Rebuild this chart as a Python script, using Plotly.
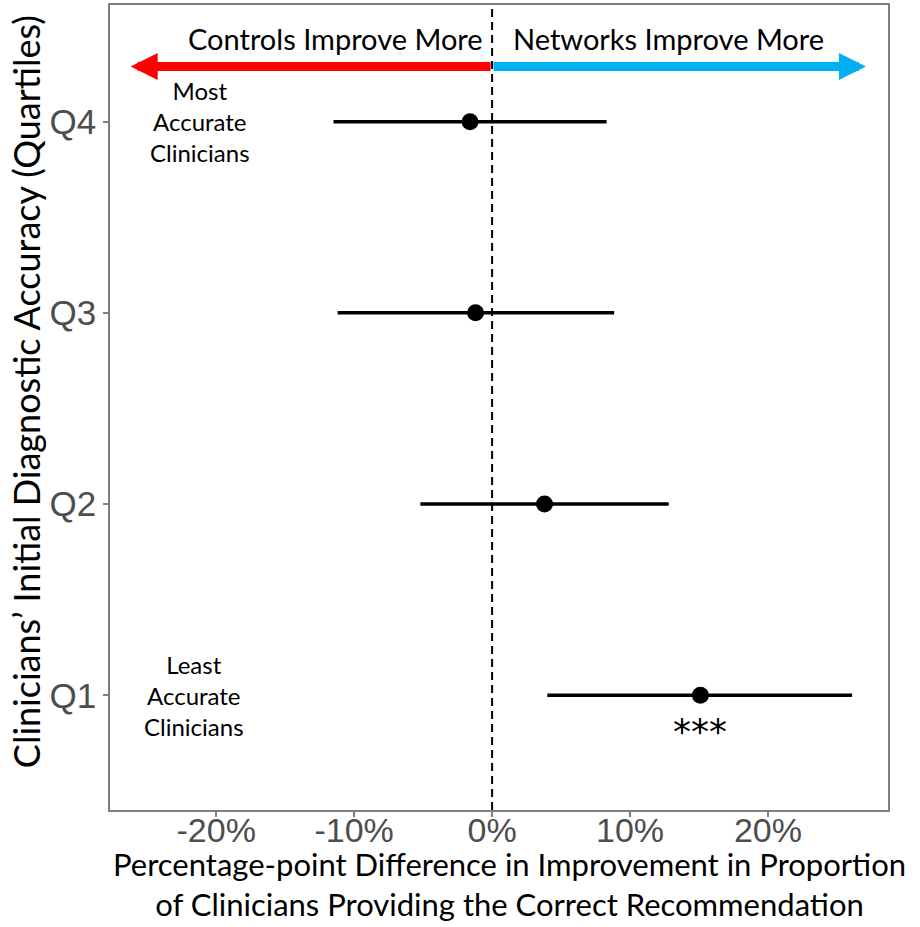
import plotly.graph_objects as go

quartiles = ["Q1", "Q2", "Q3", "Q4"]
y_pos = [1, 2, 3, 4]
estimate = [15.1, 3.8, -1.2, -1.6]
ci_low = [4.0, -5.2, -11.2, -11.5]
ci_high = [26.1, 12.8, 8.85, 8.3]
x_ticks = [-20, -10, 0, 10, 20]
x_tick_labels = ["-20%", "-10%", "0%", "10%", "20%"]

TXT_FONT = "Lato"
fig = go.Figure()

# CI lines
for yv, lo, hi in zip(y_pos, ci_low, ci_high):
    fig.add_trace(go.Scatter(x=[lo, hi], y=[yv, yv], mode="lines",
                             line=dict(color="black", width=3.5),
                             showlegend=False, hoverinfo="skip"))
fig.add_trace(go.Scatter(x=estimate, y=y_pos, mode="markers",
                         marker=dict(color="black", size=17),
                         showlegend=False))

# zero line
fig.add_shape(type="line", x0=0, x1=0, y0=0, y1=1, xref="x", yref="paper",
              line=dict(color="black", width=2, dash="8px,5px"), layer="below")

# direction arrows
arrow_y = 4.288
fig.add_annotation(x=-26.2, y=arrow_y, ax=0, ay=arrow_y, axref="x", ayref="y",
                   xref="x", yref="y", text="", showarrow=True, arrowhead=2,
                   arrowsize=0.6, arrowwidth=9, arrowcolor="#ff0000")
fig.add_annotation(x=27.1, y=arrow_y, ax=0, ay=arrow_y, axref="x", ayref="y",
                   xref="x", yref="y", text="", showarrow=True, arrowhead=2,
                   arrowsize=0.6, arrowwidth=9, arrowcolor="#00b0f0")
fig.add_annotation(x=-0.5, y=4.435, text="Controls Improve More", showarrow=False,
                   xanchor="right", font=dict(family=TXT_FONT, size=29, color="black"))
fig.add_annotation(x=1.4, y=4.435, text="Networks Improve More", showarrow=False,
                   xanchor="left", font=dict(family=TXT_FONT, size=29, color="black"))

fig.add_annotation(x=-21.2, y=4, text="Most<br>Accurate<br>Clinicians", showarrow=False,
                   font=dict(family=TXT_FONT, size=24, color="black"))
fig.add_annotation(x=-21.6, y=1, text="Least<br>Accurate<br>Clinicians", showarrow=False,
                   font=dict(family=TXT_FONT, size=24, color="black"))
fig.add_annotation(x=15.1, y=0.81, text="***", showarrow=False,
                   font=dict(family="DejaVu Sans", size=36, color="black"))

# axis titles as paper annotations
fig.add_annotation(x=0.514, y=-0.092, xref="paper", yref="paper",
                   text="Percentage-point Difference in Improvement in Proportion<br>of Clinicians Providing the Correct Recommendation",
                   showarrow=False, xanchor="center", yanchor="middle",
                   font=dict(family=TXT_FONT, size=31, color="black"))
fig.add_annotation(x=-0.107, y=0.52, xref="paper", yref="paper",
                   text="Clinicians’ Initial Diagnostic Accuracy (Quartiles)",
                   showarrow=False, textangle=-90, xanchor="center", yanchor="middle",
                   font=dict(family=TXT_FONT, size=36, color="black"))

fig.update_layout(
    width=920, height=927,
    margin=dict(l=110, r=32, t=5, b=117),
    plot_bgcolor="white", paper_bgcolor="white",
    xaxis=dict(range=[-27.7, 28.7], tickvals=x_ticks, ticktext=x_tick_labels,
               tickfont=dict(family="Liberation Sans", size=34, color="#4d4d4d"),
               ticks="outside", ticklen=5, tickcolor="#7f7f7f", tickwidth=1.5,
               ticklabelstandoff=-16,
               showgrid=False, zeroline=False, showline=True, linecolor="#7f7f7f",
               linewidth=1.5, mirror=True, automargin=False),
    yaxis=dict(range=[0.4, 4.61], tickvals=y_pos, ticktext=quartiles,
               tickfont=dict(family="Liberation Sans", size=35, color="#4d4d4d"),
               ticks="outside", ticklen=5, tickcolor="#7f7f7f", tickwidth=1.5,
               showgrid=False, zeroline=False, showline=True, linecolor="#7f7f7f",
               linewidth=1.5, mirror=True, automargin=False),
)

fig.write_html("out.html", config={"displayModeBar": False},
               post_script="document.body.style.margin='0';")
